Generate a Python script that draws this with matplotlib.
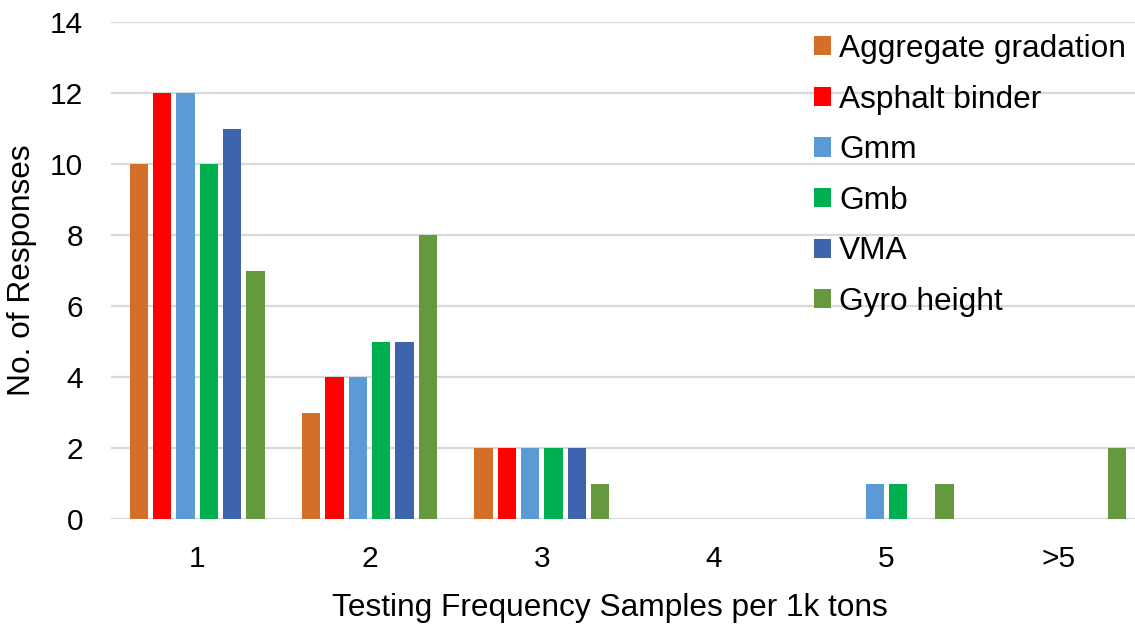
import matplotlib
matplotlib.use("Agg")
import matplotlib.pyplot as plt
import numpy as np

categories = ["1", "2", "3", "4", "5", ">5"]
series_names = ["Aggregate gradation", "Asphalt binder", "Gmm", "Gmb", "VMA", "Gyro height"]
aggregate_gradation = [10, 3, 2, 0, 0, 0]
asphalt_binder = [12, 4, 2, 0, 0, 0]
gmm = [12, 4, 2, 0, 1, 0]
gmb = [10, 5, 2, 0, 1, 0]
vma = [11, 5, 2, 0, 0, 0]
gyro_height = [7, 8, 1, 0, 1, 2]
colors = ["#D46F2A", "#FF0000", "#5B9BD5", "#00B050", "#3D64AD", "#65993D"]
yticks = [0, 2, 4, 6, 8, 10, 12, 14]

series = [aggregate_gradation, asphalt_binder, gmm, gmb, vma, gyro_height]

plt.rcParams['font.family'] = ['Liberation Sans', 'DejaVu Sans']

W, H = 1135, 625
fig = plt.figure(figsize=(W / 100, H / 100), dpi=100)
ax = fig.add_axes([111 / W, 106 / H, (W - 111) / W, 497 / H])

x = np.arange(len(categories))
pitch = 0.1352
bw = 0.106
for i, (name, vals, c) in enumerate(zip(series_names, series, colors)):
    ax.bar(x + (i - 2.5) * pitch, vals, width=bw, color=c, label=name, zorder=3)

ax.set_xlim(-0.5, -0.5 + (W - 111) / 172.3)
ax.set_ylim(0, 14)
ax.set_yticks(yticks)
ax.set_xticks(x)
ax.set_xticklabels(categories)
ax.yaxis.grid(True, color="#D9D9D9", linewidth=1.6, zorder=0)
ax.set_axisbelow(True)
for s in ax.spines.values():
    s.set_visible(False)
ax.tick_params(axis='both', length=0, labelsize=21.5, colors="#000000")
ax.tick_params(axis='y', pad=20)
ax.tick_params(axis='x', pad=19)

ax.set_xlabel("Testing Frequency Samples per 1k tons", fontsize=22.8)
ax.xaxis.set_label_coords((610 - 111) / (W - 111), -0.148, transform=ax.transAxes)
ax.xaxis.label.set_va('top')
ax.set_ylabel("No. of Responses", fontsize=22.8)
ax.yaxis.set_label_coords(22 / W, 0.5 * (106 + 603) / H, transform=fig.transFigure)
ax.yaxis.label.set_va('center')

leg = ax.legend(loc='upper left', bbox_to_anchor=(814 / W, 1 - 34 / H),
                bbox_transform=fig.transFigure, frameon=False, fontsize=22.8,
                handlelength=0.55, handleheight=0.55, handletextpad=0.25,
                labelspacing=0.65, borderpad=0, borderaxespad=0)

fig.savefig("out.png", dpi=100)
